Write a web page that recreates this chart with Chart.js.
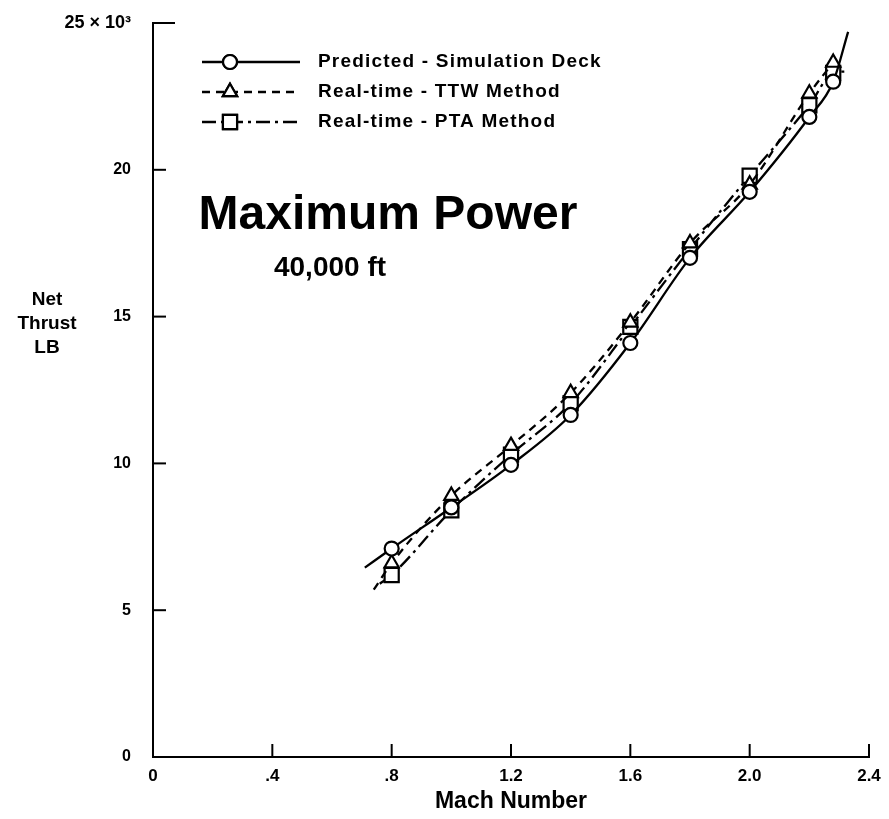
<!DOCTYPE html>
<html>
<head>
<meta charset="utf-8">
<script src="https://cdn.jsdelivr.net/npm/chart.js@4/dist/chart.umd.min.js"></script>
<style>
  body { margin: 0; background: #fff; }
  canvas { display: block; }
</style>
</head>
<body>
<canvas id="thrust-chart" width="889" height="819"></canvas>
<script>
// Values (net thrust in thousands of lb)
const machNumbers = [0.8, 1.0, 1.2, 1.4, 1.6, 1.8, 2.0, 2.2, 2.28];
const predictedThrust = [7.1, 8.5, 9.95, 11.65, 14.1, 17.0, 19.25, 21.8, 23.0];
const ttwThrust = [6.6, 8.9, 10.6, 12.4, 14.8, 17.5, 19.5, 22.6, 23.65];
const ptaThrust = [6.2, 8.4, 10.3, 12.05, 14.65, 17.3, 19.8, 22.2, 23.3];

// where the faired curves run past the first / last test point
const predictedEnds = [[0.71, 6.45], [2.33, 24.7]];
const ttwEnds = [[0.74, 5.7], [2.3, 23.9]];
const ptaEnds = [[0.76, 5.9], [2.33, 23.35]];

const seriesNames = ['Predicted - Simulation Deck', 'Real-time - TTW Method', 'Real-time - PTA Method'];
const xTickLabels = ['0', '.4', '.8', '1.2', '1.6', '2.0', '2.4'];
const yTickLabels = ['0', '5', '10', '15', '20', '25 \u00d7 10\u00b3'];

const FONT = '"Liberation Sans", Arial, sans-serif';
const markerSizes = { circle: 7, triangle: 8.2, rect: 10 };

function buildSeries(values, ends) {
    const pts = machNumbers.map((m, i) => ({ x: m, y: values[i] }));
    return [{ x: ends[0][0], y: ends[0][1] }, ...pts, { x: ends[1][0], y: ends[1][1] }];
}

function markerRadius(r) {
    return [0, ...machNumbers.map(() => r), 0];
}

function makeDataset(label, values, ends, style, dash) {
    return {
        label: label,
        data: buildSeries(values, ends),
        showLine: true,
        borderColor: '#000',
        borderWidth: 2.3,
        borderDash: dash,
        backgroundColor: '#fff',
        pointStyle: style,
        pointRadius: markerRadius(markerSizes[style]),
        pointBorderWidth: 2.2,
        pointBorderColor: '#000',
        pointBackgroundColor: '#fff',
        cubicInterpolationMode: 'monotone'
    };
}

// inward tick marks, legend and the text notes
const decorations = {
    id: 'decorations',
    afterDraw(chart) {
        const ctx = chart.ctx;
        const xs = chart.scales.x;
        const ys = chart.scales.y;
        const area = chart.chartArea;
        ctx.save();
        ctx.strokeStyle = '#000';
        ctx.lineWidth = 2;
        ctx.setLineDash([]);

        xs.ticks.forEach(t => {
            const px = xs.getPixelForValue(t.value);
            if (t.value === 0) return;
            ctx.beginPath();
            ctx.moveTo(px, area.bottom);
            ctx.lineTo(px, area.bottom - 13);
            ctx.stroke();
        });
        ys.ticks.forEach(t => {
            const py = ys.getPixelForValue(t.value);
            if (t.value === 0) return;
            ctx.beginPath();
            ctx.moveTo(area.left, py);
            ctx.lineTo(area.left + (t.value === 25 ? 22 : 13), py);
            ctx.stroke();
        });

        // legend
        const rows = [62, 92, 122];
        chart.data.datasets.forEach((ds, i) => {
            const y = rows[i];
            ctx.lineWidth = 2.3;
            ctx.setLineDash(ds.borderDash || []);
            ctx.beginPath();
            ctx.moveTo(202, y);
            ctx.lineTo(300, y);
            ctx.stroke();
            ctx.setLineDash([]);
            ctx.lineWidth = 2.2;
            Chart.helpers.drawPoint(ctx, { pointStyle: ds.pointStyle, radius: markerSizes[ds.pointStyle], borderWidth: 2.2 }, 230, y);
            ctx.fillStyle = '#fff';
            ctx.fill();
            ctx.stroke();
            ctx.fillStyle = '#000';
            ctx.font = 'bold 19px ' + FONT;
            ctx.letterSpacing = '1.2px';
            ctx.textAlign = 'left';
            ctx.textBaseline = 'middle';
            ctx.fillText(ds.label, 318, y);
            ctx.letterSpacing = '0px';
        });

        ctx.fillStyle = '#000';
        ctx.textAlign = 'center';
        ctx.textBaseline = 'alphabetic';
        ctx.font = 'bold 48px ' + FONT;
        ctx.fillText('Maximum Power', 388, 229);
        ctx.font = 'bold 28px ' + FONT;
        ctx.fillText('40,000 ft', 330, 276);

        ctx.font = 'bold 19px ' + FONT;
        ctx.fillText('Net', 47, 305);
        ctx.fillText('Thrust', 47, 329);
        ctx.fillText('LB', 47, 353);

        ctx.font = 'bold 23px ' + FONT;
        ctx.fillText('Mach Number', 511, 808);
        ctx.restore();
    }
};

new Chart(document.getElementById('thrust-chart'), {
    type: 'scatter',
    data: {
        datasets: [
            makeDataset(seriesNames[0], predictedThrust, predictedEnds, 'circle', []),
            makeDataset(seriesNames[1], ttwThrust, ttwEnds, 'triangle', [8, 6]),
            makeDataset(seriesNames[2], ptaThrust, ptaEnds, 'rect', [14, 5, 3, 5])
        ]
    },
    options: {
        responsive: false,
        animation: false,
        layout: { padding: { top: 23, right: 20, left: 0, bottom: 0 } },
        plugins: {
            legend: { display: false },
            tooltip: { enabled: false }
        },
        scales: {
            x: {
                type: 'linear',
                min: 0,
                max: 2.4,
                grid: { display: false, drawTicks: false },
                border: { display: true, color: '#000', width: 2 },
                ticks: {
                    stepSize: 0.4,
                    padding: 9,
                    color: '#000',
                    font: { family: FONT, size: 17, weight: 'bold' },
                    maxRotation: 0,
                    callback: (v, i) => xTickLabels[i]
                },
                afterFit: scale => {
                    scale.height = 62;
                    scale.paddingLeft = 0;
                    scale.paddingRight = 0;
                }
            },
            y: {
                type: 'linear',
                min: 0,
                max: 25,
                grid: { display: false, drawTicks: false },
                border: { display: true, color: '#000', width: 2 },
                ticks: {
                    stepSize: 5,
                    padding: 22,
                    color: '#000',
                    font: c => ({ family: FONT, size: c.tick && c.tick.value === 25 ? 18 : 16, weight: 'bold' }),
                    callback: (v, i) => yTickLabels[i]
                },
                afterFit: scale => {
                    scale.width = 153;
                    scale.paddingTop = 0;
                    scale.paddingBottom = 0;
                }
            }
        }
    },
    plugins: [decorations]
});
</script>
</body>
</html>
